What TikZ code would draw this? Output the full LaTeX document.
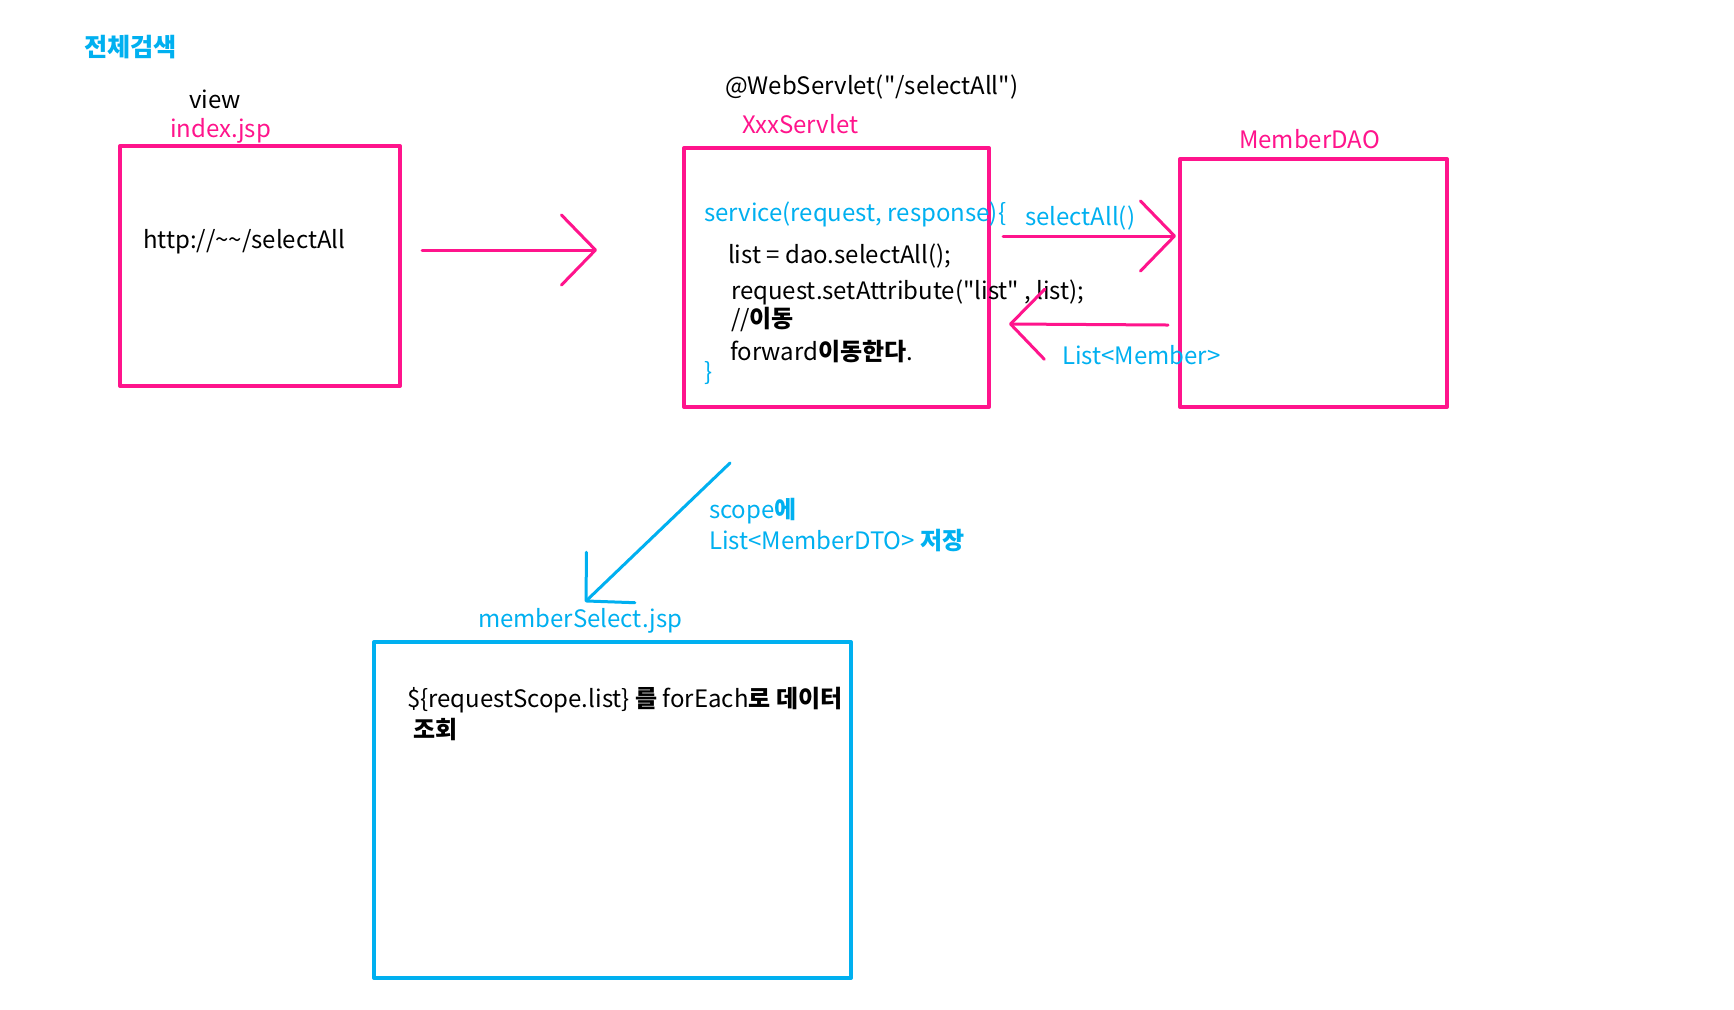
\documentclass[tikz,border=0pt]{standalone}
\usepackage{fontspec}
\setmainfont{Noto Sans CJK KR}[Ligatures=TeXOff]
\usetikzlibrary{arrows.meta}
\definecolor{hotpink}{RGB}{255,20,140}
\definecolor{skyblue}{RGB}{0,176,240}
\newcommand{\hg}[1]{{\bfseries #1}}
\newcommand{\dq}{\char34\relax}
\begin{document}
\begin{tikzpicture}[x=0.5pt,y=-0.5pt,
  txt/.style={anchor=base west,inner sep=0pt,outer sep=0pt,font=\fontsize{12}{14}\selectfont},
  box/.style={draw,line width=2pt,line join=round,inner sep=0pt,outer sep=0pt,anchor=north west},
  arr/.style={line width=1.5pt,line cap=round,
    -{Straight Barb[length=17pt,width=35pt,round]}}]
\fill[white] (0,0) rectangle (1734,1009);
\useasboundingbox (0,0) rectangle (1734,1009);

% title
\node[txt,text=skyblue,font=\fontsize{12.6}{14}\selectfont\bfseries] (title) at (84,56) {전체검색};

% view: index.jsp
\node[txt] (viewlbl) at (189,108) {view};
\node[txt,text=hotpink] (idxlbl) at (170,137) {index.jsp};
\node[box,draw=hotpink,minimum width=140pt,minimum height=120pt] (idx) at (120,146) {};
\node[txt] (url) at (143,248) {http://\textasciitilde\textasciitilde/selectAll};

% servlet
\node[txt] (anno) at (725,94) {@WebServlet(\dq/selectAll\dq)};
\node[txt,text=hotpink] (srvlbl) at (742,133) {XxxServlet};
\node[box,draw=hotpink,minimum width=152.5pt,minimum height=129.5pt] (srv) at (684,148) {};
\node[txt,text=skyblue] (svc) at (704,221) {service(request, response)\{};
\node[txt] (l1) at (728,263) {list = dao.selectAll();};
\node[txt] (l2) at (731,299) {request.setAttribute(\dq list\dq{} , list);};
\node[txt] (l3) at (731,327) {//\hg{이동}};
\node[txt] (l4) at (730,360) {forward\hg{이동한다}.};
\node[txt,text=skyblue] (rb) at (704,380) {\}};

% DAO
\node[txt,text=hotpink] (daolbl) at (1239,148) {MemberDAO};
\node[box,draw=hotpink,minimum width=133.5pt,minimum height=124pt] (dao) at (1180,159) {};
\node[txt,text=skyblue] (callbl) at (1025,225) {selectAll()};
\node[txt,text=skyblue] (retlbl) at (1062,364) {List<Member>};

% view: memberSelect.jsp
\node[txt,text=skyblue] (sellbl) at (478,627) {memberSelect.jsp};
\node[box,draw=skyblue,minimum width=238.5pt,minimum height=168pt] (sel) at (374,642) {};
\node[txt] (s1) at (407,707) {\$\{requestScope.list\} \hg{를} forEach\hg{로 데이터}};
\node[txt] (s2) at (413,738) {\hg{조회}};
\node[txt,text=skyblue] (sc1) at (709,518) {scope\hg{에}};
\node[txt,text=skyblue] (sc2) at (709,549) {List<MemberDTO> \hg{저장}};

% connector ends
\coordinate (a1s) at (422,250); \coordinate (a1e) at (597,250);
\coordinate (a2s) at (1003,236); \coordinate (a2e) at (1176,236);
\coordinate (a3s) at (1168,325); \coordinate (a3e) at (1009,324);
\coordinate (a4s) at (730,463); \coordinate (a4e) at (585,602);

\draw[arr,hotpink] (a1s) -- (a1e);
\draw[arr,hotpink] (a2s) -- (a2e);
\draw[arr,hotpink] (a3s) -- (a3e);
\draw[arr,skyblue] (a4s) -- (a4e);
\end{tikzpicture}
\end{document}
